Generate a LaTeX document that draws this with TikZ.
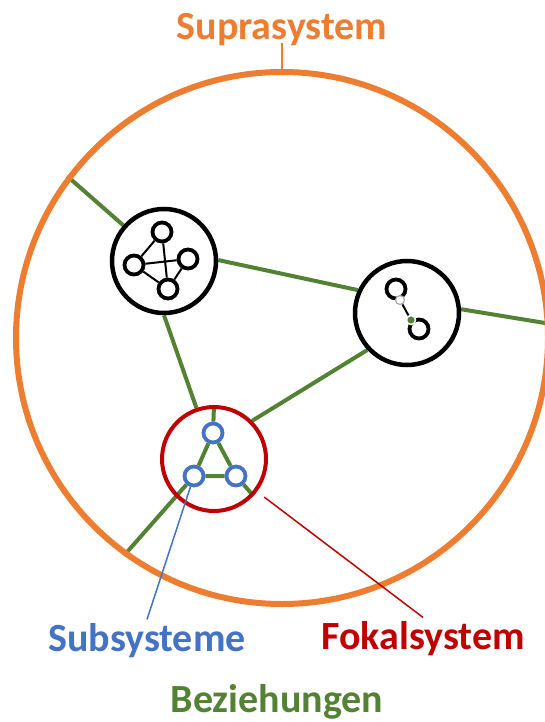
\documentclass[tikz,border=0pt]{standalone}
\usepackage{fontspec}
\setmainfont{Carlito}
\usetikzlibrary{backgrounds}

\definecolor{supraorange}{HTML}{ED7D31}
\definecolor{subblue}{HTML}{4472C4}
\definecolor{fokalred}{HTML}{C00000}
\definecolor{relgreen}{HTML}{548235}

\begin{document}
\begin{tikzpicture}[x=1pt,y=-1pt]
	\tikzstyle{system}=[circle,draw=black,line width=4.5pt,minimum size=104pt,inner sep=0pt]
	\tikzstyle{part}=[circle,draw=black,line width=3.8pt,minimum size=19pt,inner sep=0pt]
	\tikzstyle{subsys}=[part,draw=subblue]
	\tikzstyle{port}=[circle,minimum size=9pt,inner sep=0pt]
	\tikzstyle{relation}=[draw=relgreen,line width=4pt]
	\tikzstyle{link}=[draw=black,line width=2pt]
	\tikzstyle{pointer}=[line width=1.5pt]
	\tikzstyle{systemname}=[font=\fontsize{40}{41}\selectfont\bfseries,anchor=base]

	\useasboundingbox (0,0) rectangle (544,722);

	% systems
	\node [system,draw=supraorange,line width=6pt,minimum size=532pt] (supra) at (282,338) {};
	\node [system] (sysa) at (164,261) {};
	\node [system] (sysb) at (407,313) {};
	\node [system,draw=fokalred,line width=4pt] (fokal) at (214,459) {};

	% parts of the systems
	\node [part] (a1) at (162,232) {};
	\node [part] (a2) at (134,265) {};
	\node [part] (a3) at (188,259) {};
	\node [part] (a4) at (168,289) {};
	\node [part] (b1) at (396,289) {};
	\node [part] (b2) at (419,329) {};
	\node [port,draw=gray!70,fill=white,line width=1.2pt] (p1) at (400,300) {};
	\node [port,draw=white,fill=relgreen,line width=1.5pt] (p2) at (411,320) {};
	\node [subsys] (s1) at (213,433) {};
	\node [subsys] (s2) at (194,476) {};
	\node [subsys] (s3) at (236,476) {};

	\path[link] (a1) -- (a2) (a1) -- (a4) (a2) -- (a3) (a2) -- (a4) (a3) -- (a4);
	\path[link] (p1) -- (p2);

	% relations
	\begin{scope}[on background layer]
		\path[relation] (supra.143) -- (sysa);
		\path[relation] (sysa.1) -- (sysb.155);
		\path[relation] (sysb.4) -- (supra.3);
		\path[relation] (sysa.south) -- (fokal.109);
		\path[relation] (fokal.45) -- (sysb.223);
		\path[relation] (s1) -- (fokal.north);
		\path[relation] (s1) -- (s2) (s1) -- (s3) (s2) -- (s3);
		\path[relation] (s2) -- (supra.234);
		\path[relation] (s3) -- (fokal.-43);
	\end{scope}

	% names
	\node [systemname,text=supraorange] (supralabel) at (282,40) {Suprasystem};
	\node [systemname,text=subblue] (sublabel) at (147,651) {Subsysteme};
	\node [systemname,text=fokalred] (fokallabel) at (423,649) {Fokalsystem};
	\node [systemname,text=relgreen] (rellabel) at (277,712) {Beziehungen};

	\draw[pointer,supraorange,line width=2pt,shorten <=3pt] (supralabel.base) -- (supra.north);
	\draw[pointer,subblue] (s2) -- (sublabel.north);
	\draw[pointer,fokalred,shorten <=9pt] (fokal) -- (fokallabel.north);
\end{tikzpicture}
\end{document}
